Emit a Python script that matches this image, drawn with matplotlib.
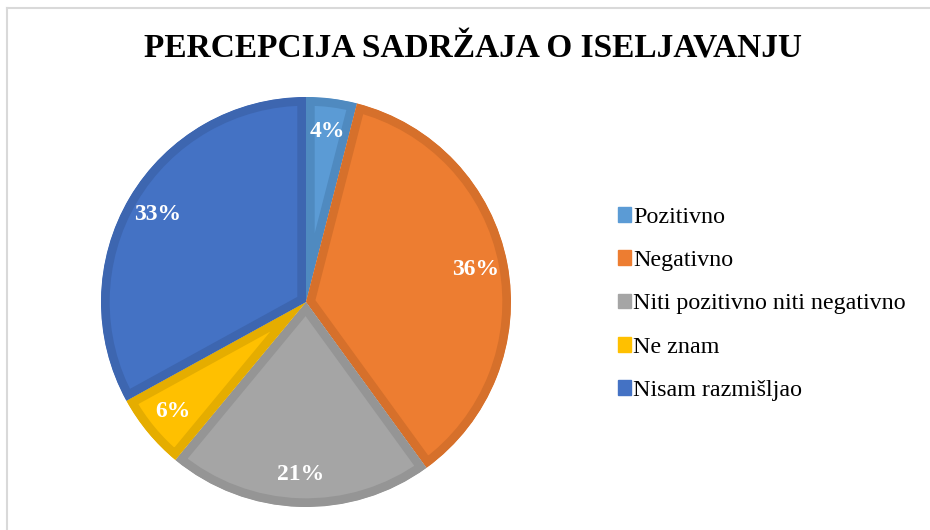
import matplotlib.pyplot as plt
from matplotlib.patches import Patch
from matplotlib.lines import Line2D

# podaci
labels = ['Pozitivno', 'Negativno', 'Niti pozitivno niti negativno', 'Ne znam', 'Nisam razmišljao']
values = [4, 36, 21, 6, 33]
colors = ['#5B9BD5', '#ED7D31', '#A5A5A5', '#FFC000', '#4472C4']
edge_colors = ['#4F8AC0', '#D6702B', '#959595', '#E5AD00', '#3D66B0']
title = 'PERCEPCIJA SADRŽAJA O ISELJAVANJU'

plt.rcParams['font.family'] = ['Liberation Serif', 'DejaVu Serif']

fig = plt.figure(figsize=(9.3, 5.3), dpi=100)
ax = fig.add_axes([101 / 930, 23 / 530, 410 / 930, 410 / 530])

wedges, texts, autotexts = ax.pie(values, colors=colors, startangle=90, counterclock=False,
                                  autopct='%1.0f%%', pctdistance=0.84,
                                  wedgeprops=dict(linewidth=12.5, joinstyle='round'))
for w, ec in zip(wedges, edge_colors):
    w.set_edgecolor(ec)
    w.set_clip_on(True)
    w.set_clip_path(w)  # samo unutarnji rub
for t in autotexts:
    t.set_color('white')
    t.set_fontweight('bold')
    t.set_fontsize(17)
ax.set_xlim(-1, 1)
ax.set_ylim(-1, 1)
ax.set_aspect('equal')

fig.text(473 / 930, 1 - 49 / 530, title, ha='center', va='center',
         fontsize=24, fontweight='bold')

handles = [Patch(facecolor=c, edgecolor=c) for c in colors]
leg = fig.legend(handles, labels, loc='center left', bbox_to_anchor=(596 / 930, 1 - 304 / 530),
                 frameon=False, fontsize=17.3, handlelength=0.55, handleheight=0.55,
                 handletextpad=0.1, labelspacing=0.93)

# okvir
fig.add_artist(Line2D([6.5 / 930, 1], [1 - 7.5 / 530, 1 - 7.5 / 530], color='#D9D9D9', lw=1.5))
fig.add_artist(Line2D([6.5 / 930, 6.5 / 930], [0, 1 - 7.5 / 530], color='#D9D9D9', lw=1.5))

plt.savefig('out.png')
